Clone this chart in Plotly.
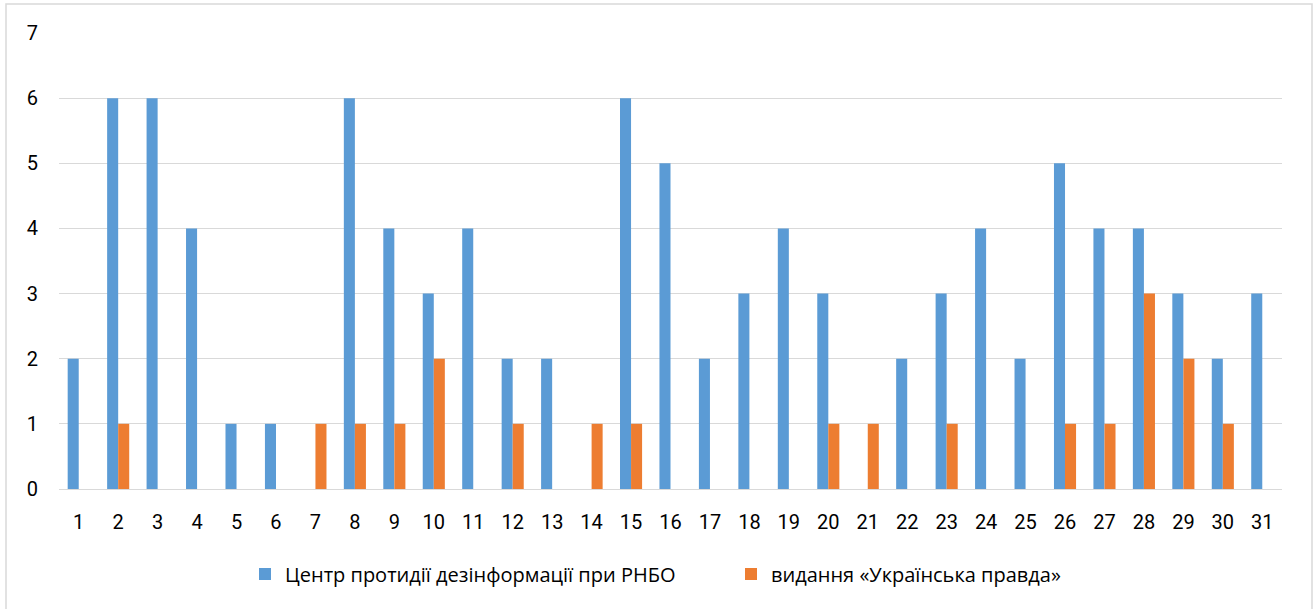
import plotly.graph_objects as go

days = [str(i) for i in range(1, 32)]
centr = [2, 6, 6, 4, 1, 1, 0, 6, 4, 3, 4, 2, 2, 0, 6, 5, 2, 3, 4, 3, 0, 2, 3, 4, 2, 5, 4, 4, 3, 2, 3]
pravda = [0, 1, 0, 0, 0, 0, 1, 1, 1, 2, 0, 1, 0, 1, 1, 0, 0, 0, 0, 1, 1, 0, 1, 0, 0, 1, 1, 3, 2, 1, 0]
name_centr = "Центр протидії дезінформації при РНБО"
name_pravda = "видання «Українська правда»"

FONT = "Roboto"
LEGFONT = "Open Sans"

fig = go.Figure()
fig.add_trace(go.Bar(x=days, y=centr, name=name_centr, marker=dict(color="#5B9BD5", line=dict(width=0))))
fig.add_trace(go.Bar(x=days, y=pravda, name=name_pravda, marker=dict(color="#ED7D31", line=dict(width=0))))

W, H = 1316, 609
ml, mr, mt, mb = 59, 34, 33, 120
pw, ph = W - ml - mr, H - mt - mb

fig.update_layout(
    width=W, height=H,
    margin=dict(l=ml, r=mr, t=mt, b=mb),
    paper_bgcolor="white", plot_bgcolor="white",
    barmode="group", bargap=0.44, bargroupgap=0,
    font=dict(family=FONT, size=20, color="#000000"),
    xaxis=dict(type="category", showgrid=False, showline=False, ticks="",
               ticklabelstandoff=19, tickfont=dict(size=20)),
    yaxis=dict(range=[0, 7], dtick=1, showgrid=True, gridcolor="#D9D9D9", gridwidth=1,
               zeroline=True, zerolinecolor="#D9D9D9", zerolinewidth=1,
               showline=False, ticks="", ticklabelstandoff=20, tickfont=dict(size=20)),
    legend=dict(orientation="h", x=(245 - ml) / pw, xanchor="left", y=(mt + ph - 574) / ph, yanchor="middle",
                font=dict(size=20, family=LEGFONT), itemwidth=30, entrywidth=441,
                bgcolor="rgba(0,0,0,0)"),
    showlegend=True,
)

fig.add_shape(type="rect", xref="paper", yref="paper",
              x0=(6 - ml) / pw, x1=(1312 - ml) / pw,
              y0=(mt + ph - 640) / ph, y1=(mt + ph - 4) / ph,
              line=dict(color="#D9D9D9", width=1.5), fillcolor="rgba(0,0,0,0)", layer="below")

fig.write_html("out.html", config={"displayModeBar": False},
               post_script="document.body.style.margin='0';document.body.style.overflow='hidden';")
